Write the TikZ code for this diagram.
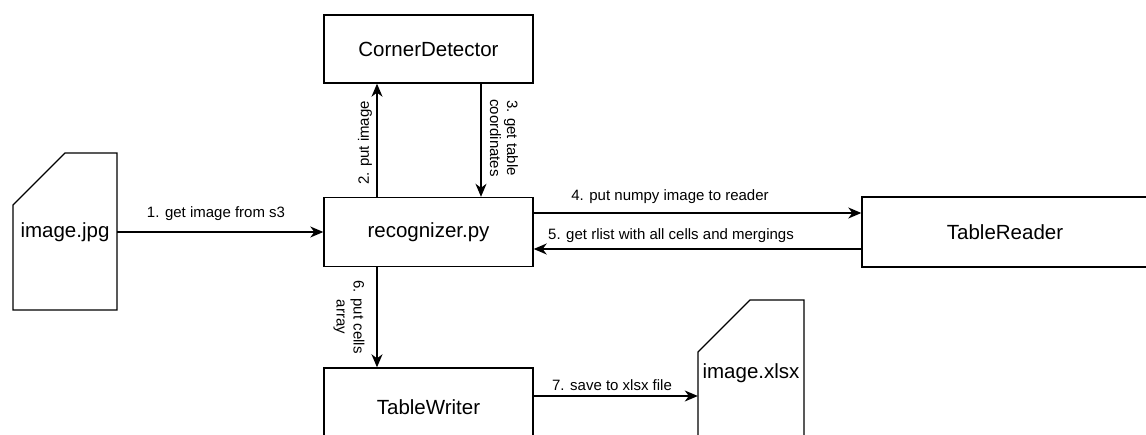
\documentclass[tikz,border=0pt]{standalone}
\usepackage{fontspec}
\setmainfont{Liberation Sans}
\usetikzlibrary{arrows.meta}
\begin{document}
\begin{tikzpicture}[x=1pt,y=-1pt,
  box/.style={draw, line width=1.4pt, rectangle, inner sep=0pt, font=\fontsize{20.5}{24}\selectfont},
  arr/.style={line width=1.4pt, -{Stealth[length=13pt,width=11pt,inset=4pt]}},
  lab/.style={font=\fontsize{15}{17}\selectfont, inner sep=1pt, align=center},
  card/.style={draw, line width=1.4pt, line join=miter}
]
\useasboundingbox (0,0) rectangle (1146,435);
% boxes
\node[box, minimum width=209pt, minimum height=68pt] (cd) at (428.5,49) {CornerDetector};
\node[box, minimum width=209pt, minimum height=69pt] (rec) at (428.5,232) {recognizer.py};
\node[box, minimum width=286pt, minimum height=70pt] (tr) at (1005,232) {TableReader};
\node[box, minimum width=209pt, minimum height=78pt] (tw) at (428.5,407) {TableWriter};
% cards
\draw[card] (13,205) -- (65,153) -- (117,153) -- (117,310) -- (13,310) -- cycle;
\node[minimum width=104pt, minimum height=157pt, inner sep=0pt, font=\fontsize{20.5}{24}\selectfont] (jpg) at (65,232) {image.jpg};
\draw[card] (698,460) -- (698,352) -- (750,300) -- (804,300) -- (804,460);
\node[minimum width=106pt, minimum height=160pt, inner sep=0pt] (xlsx) at (751,380) {};
\node[font=\fontsize{20.5}{24}\selectfont, inner sep=0pt] (xlsxlab) at (751,373) {image.xlsx};
% coordinates
\coordinate (c2) at (377,0);
\coordinate (c3) at (481,0);
\coordinate (c4) at (0,213);
\coordinate (c5) at (0,249);
\coordinate (c7) at (0,396);
% connectors
\draw[arr] (jpg.east |- rec.west) -- (rec.west);
\node[lab] (l1) at (216,214) {1. get image from s3};
\draw[arr] (rec.north -| c2) -- (cd.south -| c2);
\node[lab, rotate=90] (l2) at (365,143) {2. put image};
\draw[arr] (cd.south -| c3) -- (rec.north -| c3);
\node[lab, rotate=-90] (l3) at (504,138) {3. get table\\coordinates};
\draw[arr] (rec.east |- c4) -- (tr.west |- c4);
\node[lab] (l4) at (670,197) {4. put numpy image to reader};
\draw[arr] (tr.west |- c5) -- (rec.east |- c5);
\node[lab] (l5) at (671,236) {5. get rlist with all cells and mergings};
\draw[arr] (rec.south -| c2) -- (tw.north -| c2);
\node[lab, rotate=-90] (l6) at (349,317) {6. put cells\\array};
\draw[arr] (tw.east |- c7) -- (xlsx.west |- c7);
\node[lab] (l7) at (612,385) {7. save to xlsx file};
\end{tikzpicture}
\end{document}
